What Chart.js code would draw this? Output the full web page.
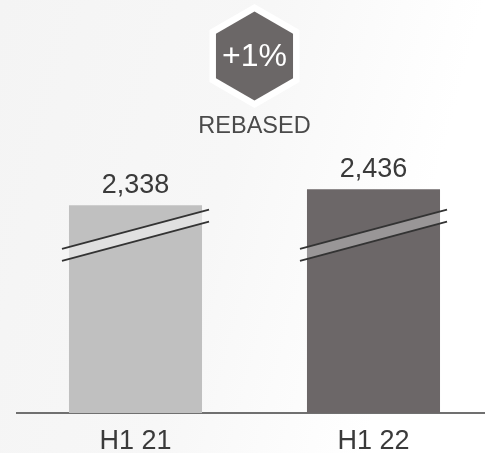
<!DOCTYPE html>
<html>
<head>
<meta charset="utf-8">
<script src="https://cdn.jsdelivr.net/npm/chart.js@4.4.1/dist/chart.umd.min.js"></script>
<style>
  html, body { margin: 0; padding: 0; width: 485px; height: 453px; overflow: hidden; }
  body { background: linear-gradient(105deg, #f4f4f4 0%, #f7f7f7 45%, #ffffff 80%); }
  canvas { display: block; }
</style>
</head>
<body>
<canvas id="chart" width="500" height="475"></canvas>
<script>
const periods = ["H1 21", "H1 22"];
const revenue = [2338, 2436];
const barColors = ["#c0c0c0", "#6c6768"];
const bandColors = ["#e0e0e0", "#999697"];
const changeLabel = "+1%";
const noteLabel = "REBASED";

// broken (rebased) value axis
const axisMin = 1064;
const axisMax = 3350;
// where the break lines cross the bar edges, in axis units
const breakFrom = 2070;
const breakTo = 2310;

const FONT = "'Liberation Sans', Arial, Helvetica, sans-serif";

function hexagon(ctx, cx, cy, r, color) {
  ctx.beginPath();
  for (let k = 0; k < 6; k++) {
    const a = Math.PI / 180 * (60 * k - 90);
    const px = cx + r * Math.cos(a), py = cy + r * Math.sin(a);
    if (k === 0) ctx.moveTo(px, py); else ctx.lineTo(px, py);
  }
  ctx.closePath();
  ctx.fillStyle = color;
  ctx.fill();
}

const extras = {
  id: "extras",
  afterDatasetsDraw(chart) {
    const ctx = chart.ctx;
    const yScale = chart.scales.y;
    const bars = chart.getDatasetMeta(0).data;
    ctx.save();

    bars.forEach((bar, i) => {
      const half = bar.width / 2;
      const x0 = bar.x - half - 7, x1 = bar.x + half + 7;
      const y0 = yScale.getPixelForValue(breakFrom);
      const y1 = yScale.getPixelForValue(breakTo);
      const gap = 12;

      ctx.save();
      ctx.beginPath();
      ctx.rect(bar.x - half, 0, bar.width, chart.height);
      ctx.clip();
      ctx.beginPath();
      ctx.moveTo(x0, y0);
      ctx.lineTo(x1, y1);
      ctx.lineTo(x1, y1 + gap);
      ctx.lineTo(x0, y0 + gap);
      ctx.closePath();
      ctx.fillStyle = bandColors[i];
      ctx.fill();
      ctx.restore();

      ctx.strokeStyle = "#333333";
      ctx.lineWidth = 1.8;
      [0, gap].forEach(off => {
        ctx.beginPath();
        ctx.moveTo(x0, y0 + off);
        ctx.lineTo(x1, y1 + off);
        ctx.stroke();
      });

      ctx.fillStyle = "#3a3a3a";
      ctx.font = "27px " + FONT;
      ctx.textAlign = "center";
      ctx.textBaseline = "alphabetic";
      ctx.fillText(revenue[i].toLocaleString("en-US"), bar.x, bar.y - 12);
    });

    // growth badge
    const cx = (bars[0].x + bars[1].x) / 2;
    const cy = 56;
    hexagon(ctx, cx, cy, 52, "#ffffff");
    hexagon(ctx, cx, cy, 44.5, "#6b6767");
    ctx.fillStyle = "#ffffff";
    ctx.font = "32px " + FONT;
    ctx.textAlign = "center";
    ctx.textBaseline = "middle";
    ctx.fillText(changeLabel, cx, cy + 1);

    ctx.fillStyle = "#4a4a4a";
    ctx.font = "23.5px " + FONT;
    ctx.fillText(noteLabel, cx, 127);
    ctx.restore();
  }
};

new Chart(document.getElementById("chart"), {
  type: "bar",
  data: {
    labels: periods,
    datasets: [{
      data: revenue,
      backgroundColor: barColors,
      borderWidth: 0,
      barPercentage: 1,
      categoryPercentage: 0.559
    }]
  },
  options: {
    responsive: false,
    animation: false,
    devicePixelRatio: 1,
    layout: { padding: { left: 16.5, right: 7.5, top: 40, bottom: 5.6 } },
    plugins: {
      legend: { display: false },
      tooltip: { enabled: false }
    },
    scales: {
      x: {
        grid: { display: false, drawTicks: false },
        border: { display: true, color: "#707070", width: 2 },
        ticks: {
          color: "#3a3a3a",
          padding: 12,
          font: { family: FONT, size: 27 }
        }
      },
      y: {
        display: false,
        min: axisMin,
        max: axisMax
      }
    }
  },
  plugins: [extras]
});
</script>
</body>
</html>
